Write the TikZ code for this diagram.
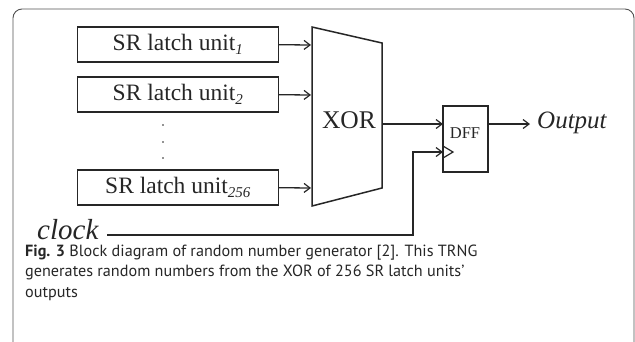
\documentclass[tikz,border=0pt]{standalone}
\usepackage{fontspec}
\setmainfont{Liberation Serif}
\newfontfamily\capfont{PT Sans}
\usetikzlibrary{arrows.meta}
\definecolor{ink}{HTML}{262626}
\newcommand{\sub}[1]{\raisebox{-0.35ex}{\fontsize{15}{15}\selectfont\itshape #1}}
\tikzset{
  wire/.style={draw=ink, line width=1.3pt},
  sig/.style={wire, -{Straight Barb[length=6pt,width=9pt,line width=1.2pt]}},
  unitbox/.style={draw=ink, line width=1.5pt, minimum width=201pt, minimum height=35pt,
    inner sep=0pt, font=\fontsize{23.5}{23.5}\selectfont, text=ink},
  captxt/.style={anchor=base west, inner sep=0pt, text=ink, font=\capfont\fontsize{16.2}{20}\selectfont},
}
\begin{document}
\begin{tikzpicture}[x=1pt,y=-1pt]
\clip (0,0) rectangle (635,341);
\useasboundingbox (0,0) rectangle (635,341);
% outer frame
\draw[draw=ink!80, line width=0.9pt, rounded corners=9pt] (13,9) rectangle (634,400);

% latch units
\node[unitbox] (u1) at (177.8,44.7) {SR latch unit\sub{1}};
\node[unitbox] (u2) at (177.8,94.7) {SR latch unit\sub{2}};
\node[unitbox] (u3) at (177.8,187.7) {SR latch unit\sub{256}};
\foreach \yy in {125,142,158} \fill[ink] (163,\yy) circle (0.9pt);

% XOR trapezoid
\draw[wire, line width=1.5pt] (312,27) -- (382,43) -- (382,188) -- (312,206) -- cycle;
\node[anchor=base, inner sep=0pt, font=\fontsize{25.5}{25.5}\selectfont, text=ink] (xor) at (349,128) {XOR};
\coordinate (x1) at (311,45);
\coordinate (x2) at (311,95);
\coordinate (x3) at (311,188);
\coordinate (xo) at (382,124);

% DFF
\node[draw=ink, line width=1.5pt, minimum width=45pt, minimum height=66pt, inner sep=0pt] (dff) at (465.5,139) {};
\node[anchor=base, inner sep=0pt, font=\fontsize{16.5}{16.5}\selectfont, text=ink] (dfft) at (465,138) {DFF};
\draw[wire, line width=1.2pt] (443,146) -- (453,152) -- (443,158);
\coordinate (din) at (443,124);
\coordinate (ck) at (443,152);
\coordinate (dout) at (488,124);

% output
\node[anchor=base west, inner sep=0pt, font=\fontsize{25}{25}\selectfont\itshape, text=ink] (out) at (537,128) {Output};

% clock
\node[anchor=base west, inner sep=0pt, font=\fontsize{29}{29}\selectfont\itshape, text=ink] (clk) at (37,239) {clock};
\coordinate (c0) at (107,235);
\coordinate (c1) at (413,235);
\coordinate (c2) at (413,152);

% connections
\draw[sig] (u1.east) -- (x1);
\draw[sig] (u2.east) -- (x2);
\draw[sig] (u3.east) -- (x3);
\draw[sig] (xo) -- (din);
\draw[sig] (dout) -- (530,124);
\draw[sig] (c0) -- (c1) -- (c2) -- (ck);

% caption
\node[captxt] (cap1) at (25,256) {\textbf{Fig. 3} Block diagram of random number generator [2]. This TRNG};
\node[captxt] (cap2) at (25,276.5) {generates random numbers from the XOR of 256 SR latch units’};
\node[captxt] (cap3) at (25,297) {outputs};
\end{tikzpicture}
\end{document}
